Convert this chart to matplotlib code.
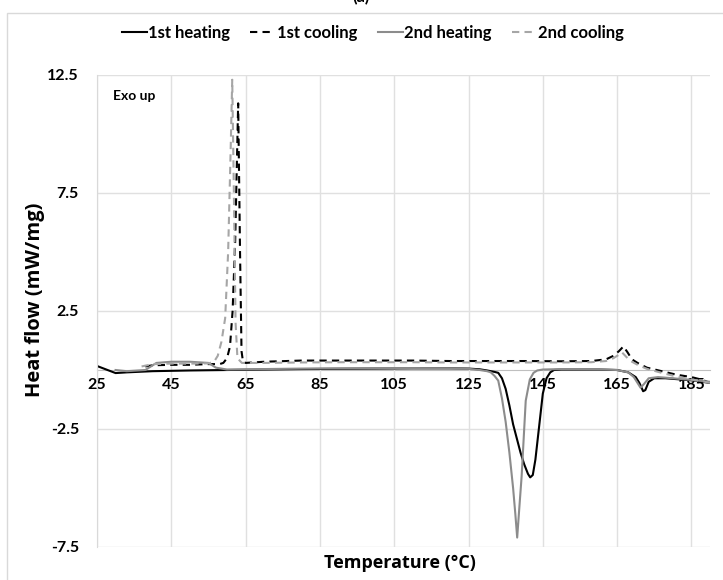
import matplotlib.pyplot as plt
from matplotlib.patches import Rectangle

plt.rcParams['font.family'] = ['Lato', 'DejaVu Sans']
plt.rcParams['font.weight'] = 'bold'

# 1st heating (black solid)
t_h1 = [25, 27, 30, 33, 40, 50, 60, 70, 80, 90, 100, 110, 120, 125, 128, 130,
        131, 132, 133, 134, 135, 136, 137, 138, 139, 140, 141, 141.6, 142.3,
        143, 144, 145, 146, 147, 148, 150, 155, 160, 165, 168, 170, 171, 172,
        172.6, 173.5, 175, 178, 182, 186, 190]
q_h1 = [0.17, 0.05, -0.13, -0.1, -0.05, -0.02, 0.0, 0.02, 0.04, 0.05, 0.06,
        0.07, 0.07, 0.06, 0.03, -0.02, -0.05, -0.08, -0.12, -0.35, -0.8, -1.5,
        -2.3, -2.9, -3.5, -4.0, -4.4, -4.55, -4.45, -3.8, -2.4, -1.0, -0.35,
        -0.1, 0.0, 0.02, 0.02, 0.02, 0.0, -0.1, -0.3, -0.55, -0.9, -0.85, -0.5,
        -0.35, -0.35, -0.4, -0.45, -0.55]

# 2nd heating (grey solid)
t_h2 = [30, 33, 38, 41, 45, 50, 55, 57, 60, 70, 80, 90, 100, 110, 120, 125,
        128, 130, 131, 132, 133, 134, 135, 136, 137, 137.6, 138.1, 138.6,
        139.3, 140.4, 141.5, 142.5, 143.5, 145, 150, 160, 165, 168, 169.5,
        170.5, 171.3, 172.2, 173.5, 176, 180, 185, 190]
q_h2 = [0.0, -0.05, 0.0, 0.3, 0.35, 0.35, 0.3, 0.1, 0.02, 0.04, 0.06, 0.07,
        0.08, 0.08, 0.07, 0.05, 0.0, -0.05, -0.1, -0.25, -0.45, -1.2, -2.2,
        -3.5, -5.0, -6.1, -7.1, -6.0, -4.5, -1.3, -0.4, -0.12, -0.02, 0.02,
        0.04, 0.03, 0.0, -0.1, -0.3, -0.55, -0.75, -0.6, -0.35, -0.3, -0.35,
        -0.42, -0.5]

# 1st cooling (black dashed)
t_c1 = [38, 40, 45, 50, 55, 58, 59, 60, 60.8, 61.5, 62.2, 63.0, 63.5, 63.9,
        64.3, 65, 70, 80, 90, 100, 110, 120, 130, 140, 150, 158, 162, 164,
        165.5, 166.7, 167.8, 169, 170.5, 173, 177, 181, 185, 188, 190]
q_c1 = [0.15, 0.2, 0.22, 0.22, 0.25, 0.25, 0.3, 0.5, 1.0, 2.5, 5.5, 11.3, 5.0,
        0.8, 0.35, 0.3, 0.35, 0.4, 0.4, 0.4, 0.4, 0.38, 0.38, 0.38, 0.37, 0.38,
        0.45, 0.6, 0.8, 1.0, 0.75, 0.45, 0.3, 0.1, -0.05, -0.2, -0.3, -0.42,
        -0.55]

# 2nd cooling (light grey dashed)
t_c2 = [37, 40, 45, 50, 55, 56.5, 57.5, 58.5, 59.5, 60.3, 61.0, 61.4, 61.8,
        62.3, 62.8, 64, 70, 80, 90, 100, 110, 120, 130, 140, 150, 158, 162,
        164, 165.5, 166.3, 167.5, 169, 170.5, 173, 177, 181, 185, 188, 190]
q_c2 = [0.15, 0.25, 0.27, 0.27, 0.28, 0.35, 0.6, 1.2, 2.2, 5.0, 9.5, 12.3, 8.0,
        2.0, 0.5, 0.3, 0.3, 0.32, 0.33, 0.33, 0.33, 0.32, 0.32, 0.32, 0.32,
        0.33, 0.38, 0.5, 0.65, 0.75, 0.55, 0.35, 0.22, 0.05, -0.12, -0.28,
        -0.4, -0.48, -0.55]

x_ticks = [25, 45, 65, 85, 105, 125, 145, 165, 185]
y_ticks = [12.5, 7.5, 2.5, -2.5, -7.5]

fig = plt.figure(figsize=(7.23, 5.80), dpi=100)
fig.patches.append(Rectangle((7 / 723, -0.02), 1.0, 1 - 13 / 580 + 0.02,
                             transform=fig.transFigure, fill=False,
                             edgecolor='#d9d9d9', linewidth=1))
ax = fig.add_axes([97 / 723, 1 - 547 / 580, (710 - 97) / 723, (547 - 75) / 580])

dash = (0, (3.5, 2.5))
ax.plot(t_h1, q_h1, color='black', lw=1.5, label='1st heating')
ax.plot(t_c1, q_c1, color='black', lw=1.5, ls=dash, label='1st cooling')
ax.plot(t_h2, q_h2, color='#8c8c8c', lw=1.5, label='2nd heating')
ax.plot(t_c2, q_c2, color='#a6a6a6', lw=1.5, ls=dash, label='2nd cooling')

ax.set_xlim(25, 190)
ax.set_ylim(-7.5, 12.5)
ax.set_xticks(x_ticks)
ax.set_yticks(y_ticks)
ax.set_yticklabels(['12.5', '7.5', '2.5', '-2.5', '-7.5'])
ax.grid(True, color='#e0e0e0', lw=1)
ax.set_axisbelow(True)
for s in ['top', 'right']:
    ax.spines[s].set_visible(False)
ax.spines['left'].set_color('#d9d9d9')
ax.spines['bottom'].set_position(('data', 0))
ax.spines['bottom'].set_color('#bfbfbf')
ax.spines['bottom'].set_zorder(0.5)
ax.tick_params(axis='both', length=0, labelsize=11.5)
ax.tick_params(axis='x', pad=6)
ax.tick_params(axis='y', pad=13)

ax.text(0.026, 0.955, 'Exo up', transform=ax.transAxes,
        fontsize=10, fontweight='bold', va='center', ha='left')

fig.text(35 / 723, 1 - 300 / 580, 'Heat flow (mW/mg)', rotation=90,
         fontsize=14.5, fontweight='bold', ha='center', va='center',
         family=['Open Sans', 'DejaVu Sans'])
fig.text(400 / 723, 1 - 563 / 580, 'Temperature (°C)', fontsize=13,
         fontweight='bold', ha='center', va='center',
         family=['Open Sans', 'DejaVu Sans'])
fig.text(0.5, 1.005, '(a)', fontsize=12, ha='center', va='center')

fig.legend(loc='center', bbox_to_anchor=(373 / 723, 1 - 33 / 580), ncol=4,
           frameon=False, fontsize=12, handlelength=1.5, handletextpad=0.1,
           columnspacing=1.2)

fig.savefig('out.png', dpi=100)
